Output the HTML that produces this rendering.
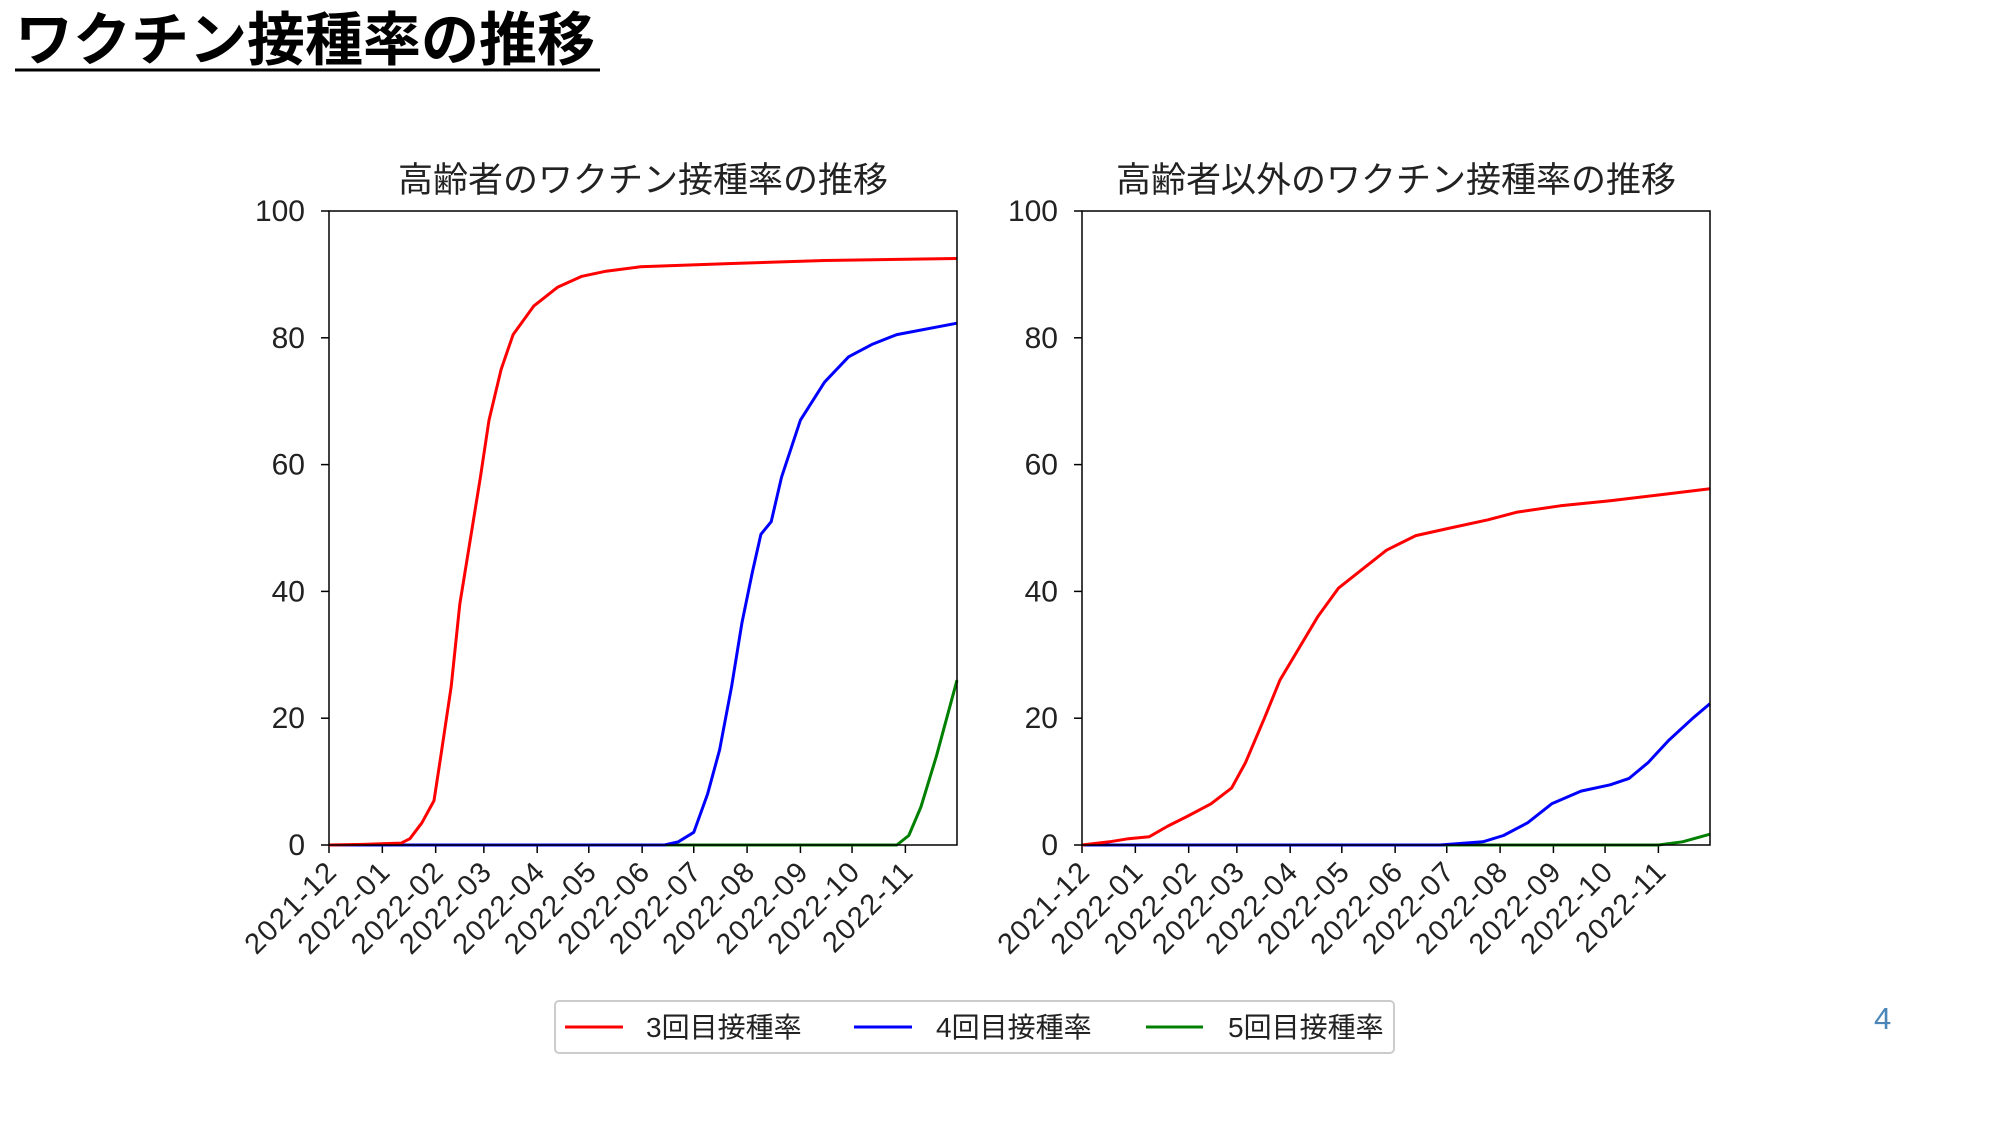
<!DOCTYPE html>
<html><head><meta charset="utf-8"><style>
body{margin:0;background:#fff;}
svg{display:block;font-family:"Liberation Sans","Noto Sans CJK JP",sans-serif;}
</style></head><body>
<svg id="chart" width="2000" height="1125" viewBox="0 0 2000 1125">
<text x="15" y="60" font-size="58" font-weight="bold" fill="#000">ワクチン接種率の推移</text>
<line x1="15" y1="70" x2="600" y2="70" stroke="#000" stroke-width="3"/>
<text x="1874" y="1029" font-size="31" fill="#4a86b8">4</text>
<g id="p1"></g>
<g id="p2"></g>
<g>
<rect x="555" y="1001" width="839" height="52" rx="4" fill="#fff" stroke="#ccc" stroke-width="2"/>
<line x1="565" y1="1027" x2="623" y2="1027" stroke="red" stroke-width="3"/>
<text x="646" y="1037" font-size="28" fill="#222">3回目接種率</text>
<line x1="854" y1="1027" x2="912" y2="1027" stroke="blue" stroke-width="3"/>
<text x="936" y="1037" font-size="28" fill="#222">4回目接種率</text>
<line x1="1146" y1="1027" x2="1203" y2="1027" stroke="green" stroke-width="3"/>
<text x="1228" y="1037" font-size="28" fill="#222">5回目接種率</text>
</g>
</svg>
<script>
const tickLabels = ["2021-12","2022-01","2022-02","2022-03","2022-04","2022-05","2022-06","2022-07","2022-08","2022-09","2022-10","2022-11"];
const tickDays = [0,31,62,90,121,151,182,212,243,274,304,335];
const yTicks = [0,20,40,60,80,100];
const elderlyRedDays = [0,20,42,47,54,61,65,71,76,82,88,93,100,107,119,133,147,161,181,232,288,365];
const elderlyRedVals = [0,0.1,0.3,1,3.5,7,14,25,38,48,58,67,75,80.5,85,88,89.7,90.5,91.2,91.7,92.2,92.5];
const elderlyBlueDays = [0,195,203,212,220,227,234,240,246,251,257,263,274,288,302,316,330,365];
const elderlyBlueVals = [0,0,0.5,2,8,15,25,35,43,49,51,58,67,73,77,79,80.5,82.3];
const elderlyGreenDays = [0,330,337,344,353,365];
const elderlyGreenVals = [0,0,1.5,6,14,26];
const otherRedDays = [0,16,27,39,50,61,75,87,95,106,115,126,137,149,163,177,194,214,236,253,278,307,335,365];
const otherRedVals = [0,0.5,1,1.3,3,4.5,6.5,9,13,20,26,31,36,40.5,43.5,46.5,48.8,50,51.3,52.5,53.5,54.3,55.2,56.2];
const otherBlueDays = [0,208,233,245,259,273,290,307,318,329,341,355,365];
const otherBlueVals = [0,0,0.5,1.5,3.5,6.5,8.5,9.5,10.5,13,16.5,20,22.3];
const otherGreenDays = [0,335,349,365];
const otherGreenVals = [0,0,0.5,1.7];

const NS="http://www.w3.org/2000/svg";
function mk(tag,attrs,parent){const e=document.createElementNS(NS,tag);for(const k in attrs)e.setAttribute(k,attrs[k]);parent.appendChild(e);return e;}
function drawPanel(g,x0,x1,title,series){
  const y0=845,y1=211,maxD=365;
  const sx=d=>x0+d/maxD*(x1-x0), sy=v=>y0-v/100*(y0-y1);
  const t=mk('text',{x:(x0+x1)/2,y:192,'font-size':35,'text-anchor':'middle',fill:'#222'},g);
  t.textContent=title;
  
  
  yTicks.forEach(v=>{
    const l=mk('line',{x1:x0-8,x2:x0,y1:sy(v),y2:sy(v),stroke:'#000','stroke-width':1.5},g);
    
    
    const tx=mk('text',{x:x0-24,y:sy(v)+10,'font-size':30,'text-anchor':'end',fill:'#222'},g);
    tx.textContent=v;
    
    
  });
  tickDays.forEach((d,i)=>{
    const x=sx(d);
    const l=mk('line',{x1:x,x2:x,y1:y0,y2:y0+8,stroke:'#000','stroke-width':1.5},g);
    
    
    const tx=mk('text',{x:x+10,y:y0+28,'font-size':29,'letter-spacing':'1.5','text-anchor':'end',fill:'#222',transform:`rotate(-45 ${x+10} ${y0+28})`},g);
    tx.textContent=tickLabels[i];
    
    
  });
  series.forEach(s=>{
    const p=s.days.map((d,i)=>sx(d).toFixed(1)+','+sy(s.vals[i]).toFixed(1)).join(' ');
    const pl=mk('polyline',{points:p,fill:'none',stroke:s.color,'stroke-width':3,'stroke-linejoin':'round'},g);
    
    
  });
  const fr=mk('rect',{x:x0,y:y1,width:x1-x0,height:y0-y1,fill:'none',stroke:'#000','stroke-width':1.5},g);
  
  
}
drawPanel(document.getElementById('p1'),329,957,'高齢者のワクチン接種率の推移',[
 {days:elderlyGreenDays,vals:elderlyGreenVals,color:'green',name:'line-5th-dose'},
 {days:elderlyBlueDays,vals:elderlyBlueVals,color:'blue',name:'line-4th-dose'},
 {days:elderlyRedDays,vals:elderlyRedVals,color:'red',name:'line-3rd-dose'}]);
drawPanel(document.getElementById('p2'),1082,1710,'高齢者以外のワクチン接種率の推移',[
 {days:otherGreenDays,vals:otherGreenVals,color:'green',name:'line-5th-dose'},
 {days:otherBlueDays,vals:otherBlueVals,color:'blue',name:'line-4th-dose'},
 {days:otherRedDays,vals:otherRedVals,color:'red',name:'line-3rd-dose'}]);
</script>
</body></html>
